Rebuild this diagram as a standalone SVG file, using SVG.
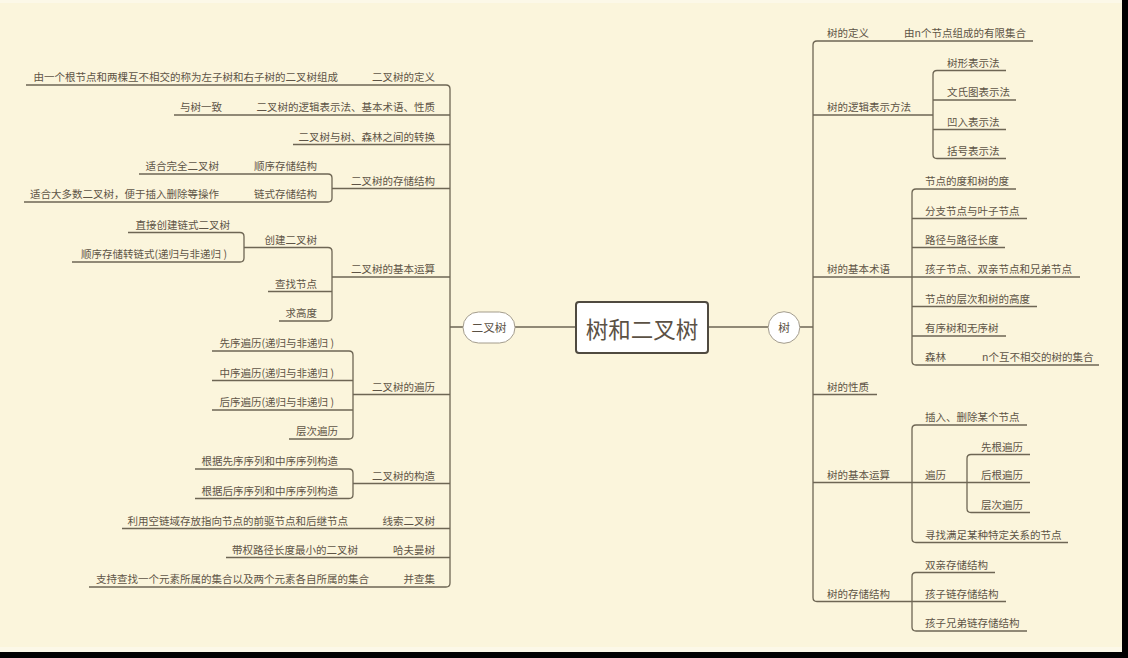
<svg xmlns="http://www.w3.org/2000/svg" width="1128" height="658" viewBox="0 0 1128 658">
<style>
.t{font-family:"Noto Sans CJK SC","Noto Sans",sans-serif;font-size:10.5px;fill:#5e5446}
.e{text-anchor:end}
.c{fill:none;stroke:#6e6654;stroke-width:1.3}
</style>
<rect x="0" y="0" width="1128" height="658" fill="#000"/>
<rect x="0" y="0" width="1122" height="652" fill="#fbf5dc"/>
<rect x="0" y="0" width="1122" height="3" fill="#fcf8e8"/>
<rect x="0" y="647" width="1122" height="5" fill="#fcf8e8"/>
<g id="connectors" class="c">
<path d="M515 327H576M708 327H768M450 327H463M800 327H813"/>
<path d="M26 85H446Q450 85 450 89V583Q450 587 446 587H89"/>
<path d="M174 115H450M293 144.5H450M332 188.5H450M332 277H450M353 394.5H450M353 483.5H450M122 528.5H450M226 557.5H450"/>
<path d="M139 174H328Q332 174 332 178V198Q332 202 328 202H24"/>
<path d="M128 232.5H240Q244 232.5 244 236.5V258Q244 262 240 262H72"/>
<path d="M244 247.5H328Q332 247.5 332 251.5V317Q332 321 328 321H279M268 291.5H332"/>
<path d="M212 351H349Q353 351 353 355V435Q353 439 349 439H289M212 380.5H353M212 410H353"/>
<path d="M195 469H349Q353 469 353 473V494.5Q353 498.5 349 498.5H195"/>
<path d="M1033 41H817Q813 41 813 45V597.5Q813 601.5 817 601.5H912"/>
<path d="M813 115H933M813 277H912M813 394.5H877M813 482.5H967"/>
<path d="M1006 70.5H937Q933 70.5 933 74.5V154.5Q933 158.5 937 158.5H1006M933 100H1016M933 129.5H1006"/>
<path d="M1016 189H916Q912 189 912 193V361Q912 365 916 365H1099M912 218.5H1027M912 247.5H1005M912 277H1080M912 306.5H1037M912 336H1006"/>
<path d="M1027 425H916Q912 425 912 429V538.5Q912 542.5 916 542.5H1068"/>
<path d="M1030 454.5H971Q967 454.5 967 458.5V508.5Q967 512.5 971 512.5H1030M967 482.5H1030"/>
<path d="M995 572.5H916Q912 572.5 912 576.5V627Q912 631 916 631H1027M912 601.5H1006"/>
</g>
<g id="root">
<rect x="576" y="302" width="132" height="51" rx="3" fill="#fff" stroke="#4f4a40" stroke-width="2"/>
<text x="642" y="338" text-anchor="middle" style="font-family:'Noto Sans CJK SC','Noto Sans',sans-serif;font-size:22.5px;fill:#5b5144">树和二叉树</text>
</g>
<g id="n-bt">
<rect x="463" y="312" width="52" height="31" rx="15.5" fill="#fff" stroke="#a39c8c" stroke-width="1"/>
<text x="489" y="332" text-anchor="middle" style="font-family:'Noto Sans CJK SC','Noto Sans',sans-serif;font-size:11.7px;fill:#5b5144">二叉树</text>
</g>
<g id="n-tree">
<circle cx="784" cy="327.5" r="15.8" fill="#fff" stroke="#a39c8c" stroke-width="1"/>
<text x="784" y="332" text-anchor="middle" style="font-family:'Noto Sans CJK SC','Noto Sans',sans-serif;font-size:11.7px;fill:#5b5144">树</text>
</g>
<g id="left-nodes" class="t">
<g id="l1"><text class="t e" x="435" y="81">二叉树的定义</text><text class="t e" x="338" y="81">由一个根节点和两棵互不相交的称为左子树和右子树的二叉树组成</text></g>
<g id="l2"><text class="t e" x="435" y="111">二叉树的逻辑表示法、基本术语、性质</text><text class="t e" x="222" y="111">与树一致</text></g>
<g id="l3"><text class="t e" x="435" y="140.5">二叉树与树、森林之间的转换</text></g>
<g id="l4"><text class="t e" x="435" y="184.5">二叉树的存储结构</text>
<text class="t e" x="317" y="170">顺序存储结构</text><text class="t e" x="219" y="170">适合完全二叉树</text>
<text class="t e" x="317" y="198">链式存储结构</text><text class="t e" x="219" y="198">适合大多数二叉树，便于插入删除等操作</text></g>
<g id="l5"><text class="t e" x="435" y="273">二叉树的基本运算</text>
<text class="t e" x="317" y="243.5">创建二叉树</text>
<text class="t e" x="230" y="228.5">直接创建链式二叉树</text>
<text class="t e" x="227" y="258">顺序存储转链式(递归与非递归 )</text>
<text class="t e" x="317" y="287.5">查找节点</text>
<text class="t e" x="317" y="317">求高度</text></g>
<g id="l6"><text class="t e" x="435" y="390.5">二叉树的遍历</text>
<text class="t e" x="334" y="347">先序遍历(递归与非递归 )</text>
<text class="t e" x="334" y="376.5">中序遍历(递归与非递归 )</text>
<text class="t e" x="334" y="406">后序遍历(递归与非递归 )</text>
<text class="t e" x="338" y="435">层次遍历</text></g>
<g id="l7"><text class="t e" x="435" y="479.5">二叉树的构造</text>
<text class="t e" x="338" y="465">根据先序序列和中序序列构造</text>
<text class="t e" x="338" y="494.5">根据后序序列和中序序列构造</text></g>
<g id="l8"><text class="t e" x="435" y="524.5">线索二叉树</text><text class="t e" x="348" y="524.5">利用空链域存放指向节点的前驱节点和后继节点</text></g>
<g id="l9"><text class="t e" x="435" y="553.5">哈夫曼树</text><text class="t e" x="358" y="553.5">带权路径长度最小的二叉树</text></g>
<g id="l10"><text class="t e" x="435" y="583">并查集</text><text class="t e" x="369" y="583">支持查找一个元素所属的集合以及两个元素各自所属的集合</text></g>
</g>
<g id="right-nodes" class="t">
<g id="r1"><text class="t" x="827" y="37">树的定义</text><text class="t" x="904" y="37">由n个节点组成的有限集合</text></g>
<g id="r2"><text class="t" x="827" y="111">树的逻辑表示方法</text>
<text class="t" x="947" y="66.5">树形表示法</text>
<text class="t" x="947" y="96">文氏图表示法</text>
<text class="t" x="947" y="125.5">凹入表示法</text>
<text class="t" x="947" y="154.5">括号表示法</text></g>
<g id="r3"><text class="t" x="827" y="273">树的基本术语</text>
<text class="t" x="925" y="185">节点的度和树的度</text>
<text class="t" x="925" y="214.5">分支节点与叶子节点</text>
<text class="t" x="925" y="243.5">路径与路径长度</text>
<text class="t" x="925" y="273">孩子节点、双亲节点和兄弟节点</text>
<text class="t" x="925" y="302.5">节点的层次和树的高度</text>
<text class="t" x="925" y="332">有序树和无序树</text>
<text class="t" x="925" y="361">森林</text><text class="t" x="982" y="361">n个互不相交的树的集合</text></g>
<g id="r4"><text class="t" x="827" y="390.5">树的性质</text></g>
<g id="r5"><text class="t" x="827" y="478.5">树的基本运算</text>
<text class="t" x="925" y="421">插入、删除某个节点</text>
<text class="t" x="925" y="478.5">遍历</text>
<text class="t" x="981" y="450.5">先根遍历</text>
<text class="t" x="981" y="478.5">后根遍历</text>
<text class="t" x="981" y="508.5">层次遍历</text>
<text class="t" x="925" y="538.5">寻找满足某种特定关系的节点</text></g>
<g id="r6"><text class="t" x="827" y="597.5">树的存储结构</text>
<text class="t" x="925" y="568.5">双亲存储结构</text>
<text class="t" x="925" y="597.5">孩子链存储结构</text>
<text class="t" x="925" y="627">孩子兄弟链存储结构</text></g>
</g>
</svg>
